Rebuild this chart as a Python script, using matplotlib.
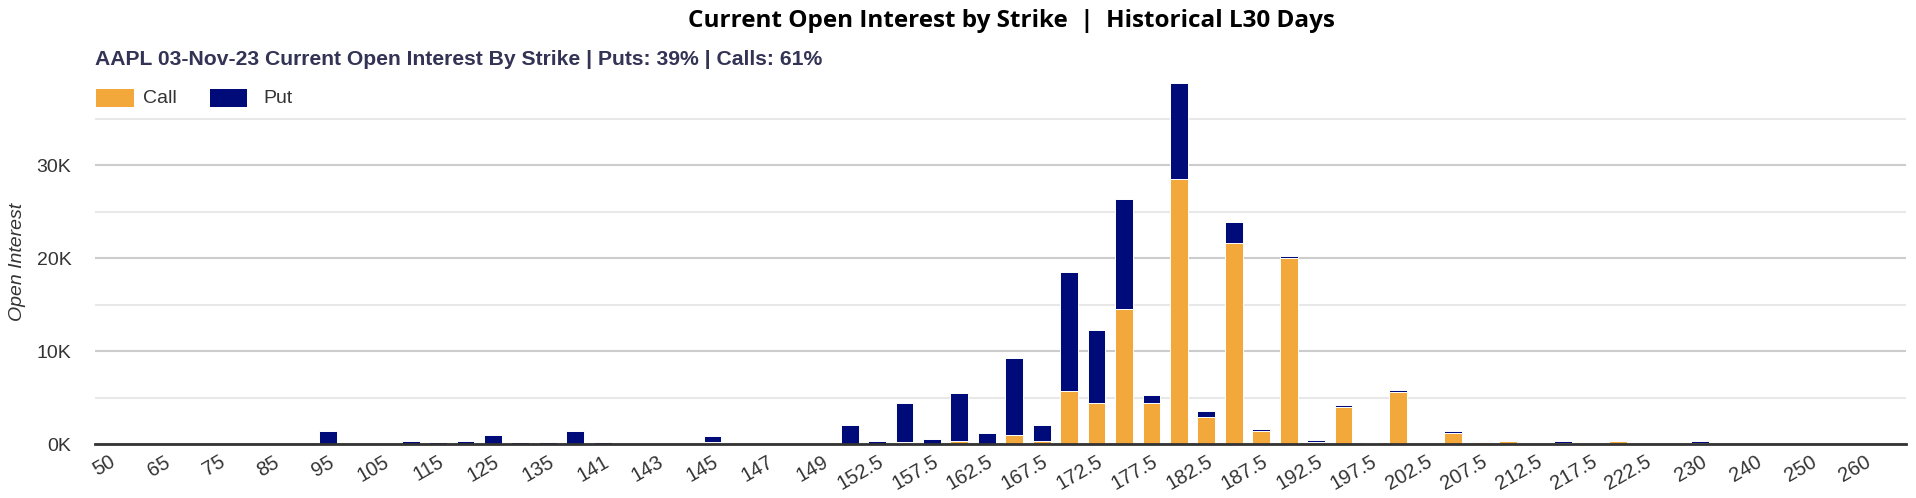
import matplotlib
matplotlib.use('Agg')
import matplotlib.pyplot as plt
from matplotlib.patches import Rectangle
import numpy as np

# strikes (category axis) and open interest per strike
strikes = ['50', '55', '65', '70', '75', '80', '85', '90', '95', '100', '105', '110',
           '115', '120', '125', '130', '135', '140', '141', '142', '143', '144', '145',
           '146', '147', '148', '149', '150', '152.5', '155', '157.5', '160', '162.5',
           '165', '167.5', '170', '172.5', '175', '177.5', '180', '182.5', '185',
           '187.5', '190', '192.5', '195', '197.5', '200', '202.5', '205', '207.5',
           '210', '212.5', '215', '217.5', '220', '222.5', '225', '230', '235', '240',
           '245', '250', '255', '260', '265']

call_oi = {'115': 50, '135': 50, '141': 50, '145': 200, '152.5': 50, '155': 200,
           '160': 330, '165': 950, '167.5': 360, '170': 5750, '172.5': 4440,
           '175': 14500, '177.5': 4440, '180': 28550, '182.5': 2900, '185': 21600,
           '187.5': 1420, '190': 20000, '192.5': 250, '195': 4000, '197.5': 80,
           '200': 5640, '205': 1160, '207.5': 200, '210': 330, '215': 150,
           '220': 330, '230': 150}

put_oi = {'95': 1400, '110': 330, '115': 150, '120': 330, '125': 970, '130': 200,
          '135': 200, '140': 1400, '141': 120, '145': 700, '150': 2000, '152.5': 250,
          '155': 4200, '157.5': 500, '160': 5200, '162.5': 1160, '165': 8300,
          '167.5': 1700, '170': 12800, '172.5': 7850, '175': 11900, '177.5': 860,
          '180': 10250, '182.5': 650, '185': 2300, '187.5': 180, '190': 200,
          '192.5': 150, '195': 150, '197.5': 120, '200': 150, '205': 200,
          '207.5': 130, '210': 150, '215': 130, '220': 150, '230': 130}

calls = np.array([call_oi.get(s, 0) for s in strikes])
puts = np.array([put_oi.get(s, 0) for s in strikes])

CALL_COLOR = '#f3a83b'
PUT_COLOR = '#000b7a'

fig = plt.figure(figsize=(19.16, 4.98), dpi=100)
ax = fig.add_axes([0.0496, 0.1084, 0.9452, 0.7283])

x = np.arange(len(strikes))
ax.bar(x, calls, width=0.65, color=CALL_COLOR, edgecolor='white', linewidth=0.7, zorder=3)
ax.bar(x, puts, width=0.65, bottom=calls, color=PUT_COLOR, edgecolor='white', linewidth=0.7, zorder=3)

ax.set_xlim(-0.5, len(strikes) - 0.5)
ax.set_ylim(0, 39000)

ax.set_yticks([0, 10000, 20000, 30000])
ax.set_yticklabels(['0K', '10K', '20K', '30K'], fontsize=14, color='#333333',
                   family='Liberation Sans')
ax.set_yticks([5000, 15000, 25000, 35000], minor=True)
ax.yaxis.grid(True, which='major', color='#cccccc', lw=1.5)
ax.yaxis.grid(True, which='minor', color='#e8e8e8', lw=1.5)
ax.set_axisbelow(True)

ax.set_xticks(x[::2])
ax.set_xticklabels(strikes[::2], rotation=30, ha='right', va='top', rotation_mode='anchor',
                   fontsize=14.5, color='#333333', family='Liberation Sans')
ax.tick_params(axis='both', which='both', length=0)
ax.tick_params(axis='y', pad=17)
ax.tick_params(axis='x', pad=6)

for side in ['top', 'right', 'left']:
    ax.spines[side].set_visible(False)
ax.spines['bottom'].set_color('#333333')
ax.spines['bottom'].set_linewidth(2)
ax.spines['bottom'].set_zorder(4)

fig.text(0.528, 0.958, 'Current Open Interest by Strike  |  Historical L30 Days',
         ha='center', va='center', fontsize=17.5, fontweight='bold', family='Open Sans',
         color='black')
fig.text(0.0496, 0.8815,
         'AAPL 03-Nov-23 Current Open Interest By Strike | Puts: 39% | Calls: 61%',
         ha='left', va='center', fontsize=15.2, fontweight='bold',
         family='Liberation Sans', color='#333355')

# legend
fig.patches.append(Rectangle((0.0501, 0.7851), 0.0198, 0.0361, transform=fig.transFigure,
                             facecolor=CALL_COLOR, edgecolor='none'))
fig.text(0.0746, 0.8032, 'Call', ha='left', va='center', fontsize=14,
         family='Liberation Sans', color='#333333')
fig.patches.append(Rectangle((0.1096, 0.7851), 0.0193, 0.0361, transform=fig.transFigure,
                             facecolor=PUT_COLOR, edgecolor='none'))
fig.text(0.1373, 0.8032, 'Put', ha='left', va='center', fontsize=14,
         family='Liberation Sans', color='#333333')

fig.text(0.009, 0.474, 'Open Interest', rotation=90, ha='center', va='center',
         fontsize=14, style='italic', family='Liberation Sans', color='#333333')

plt.savefig('out.png', dpi=100)
plt.close()
